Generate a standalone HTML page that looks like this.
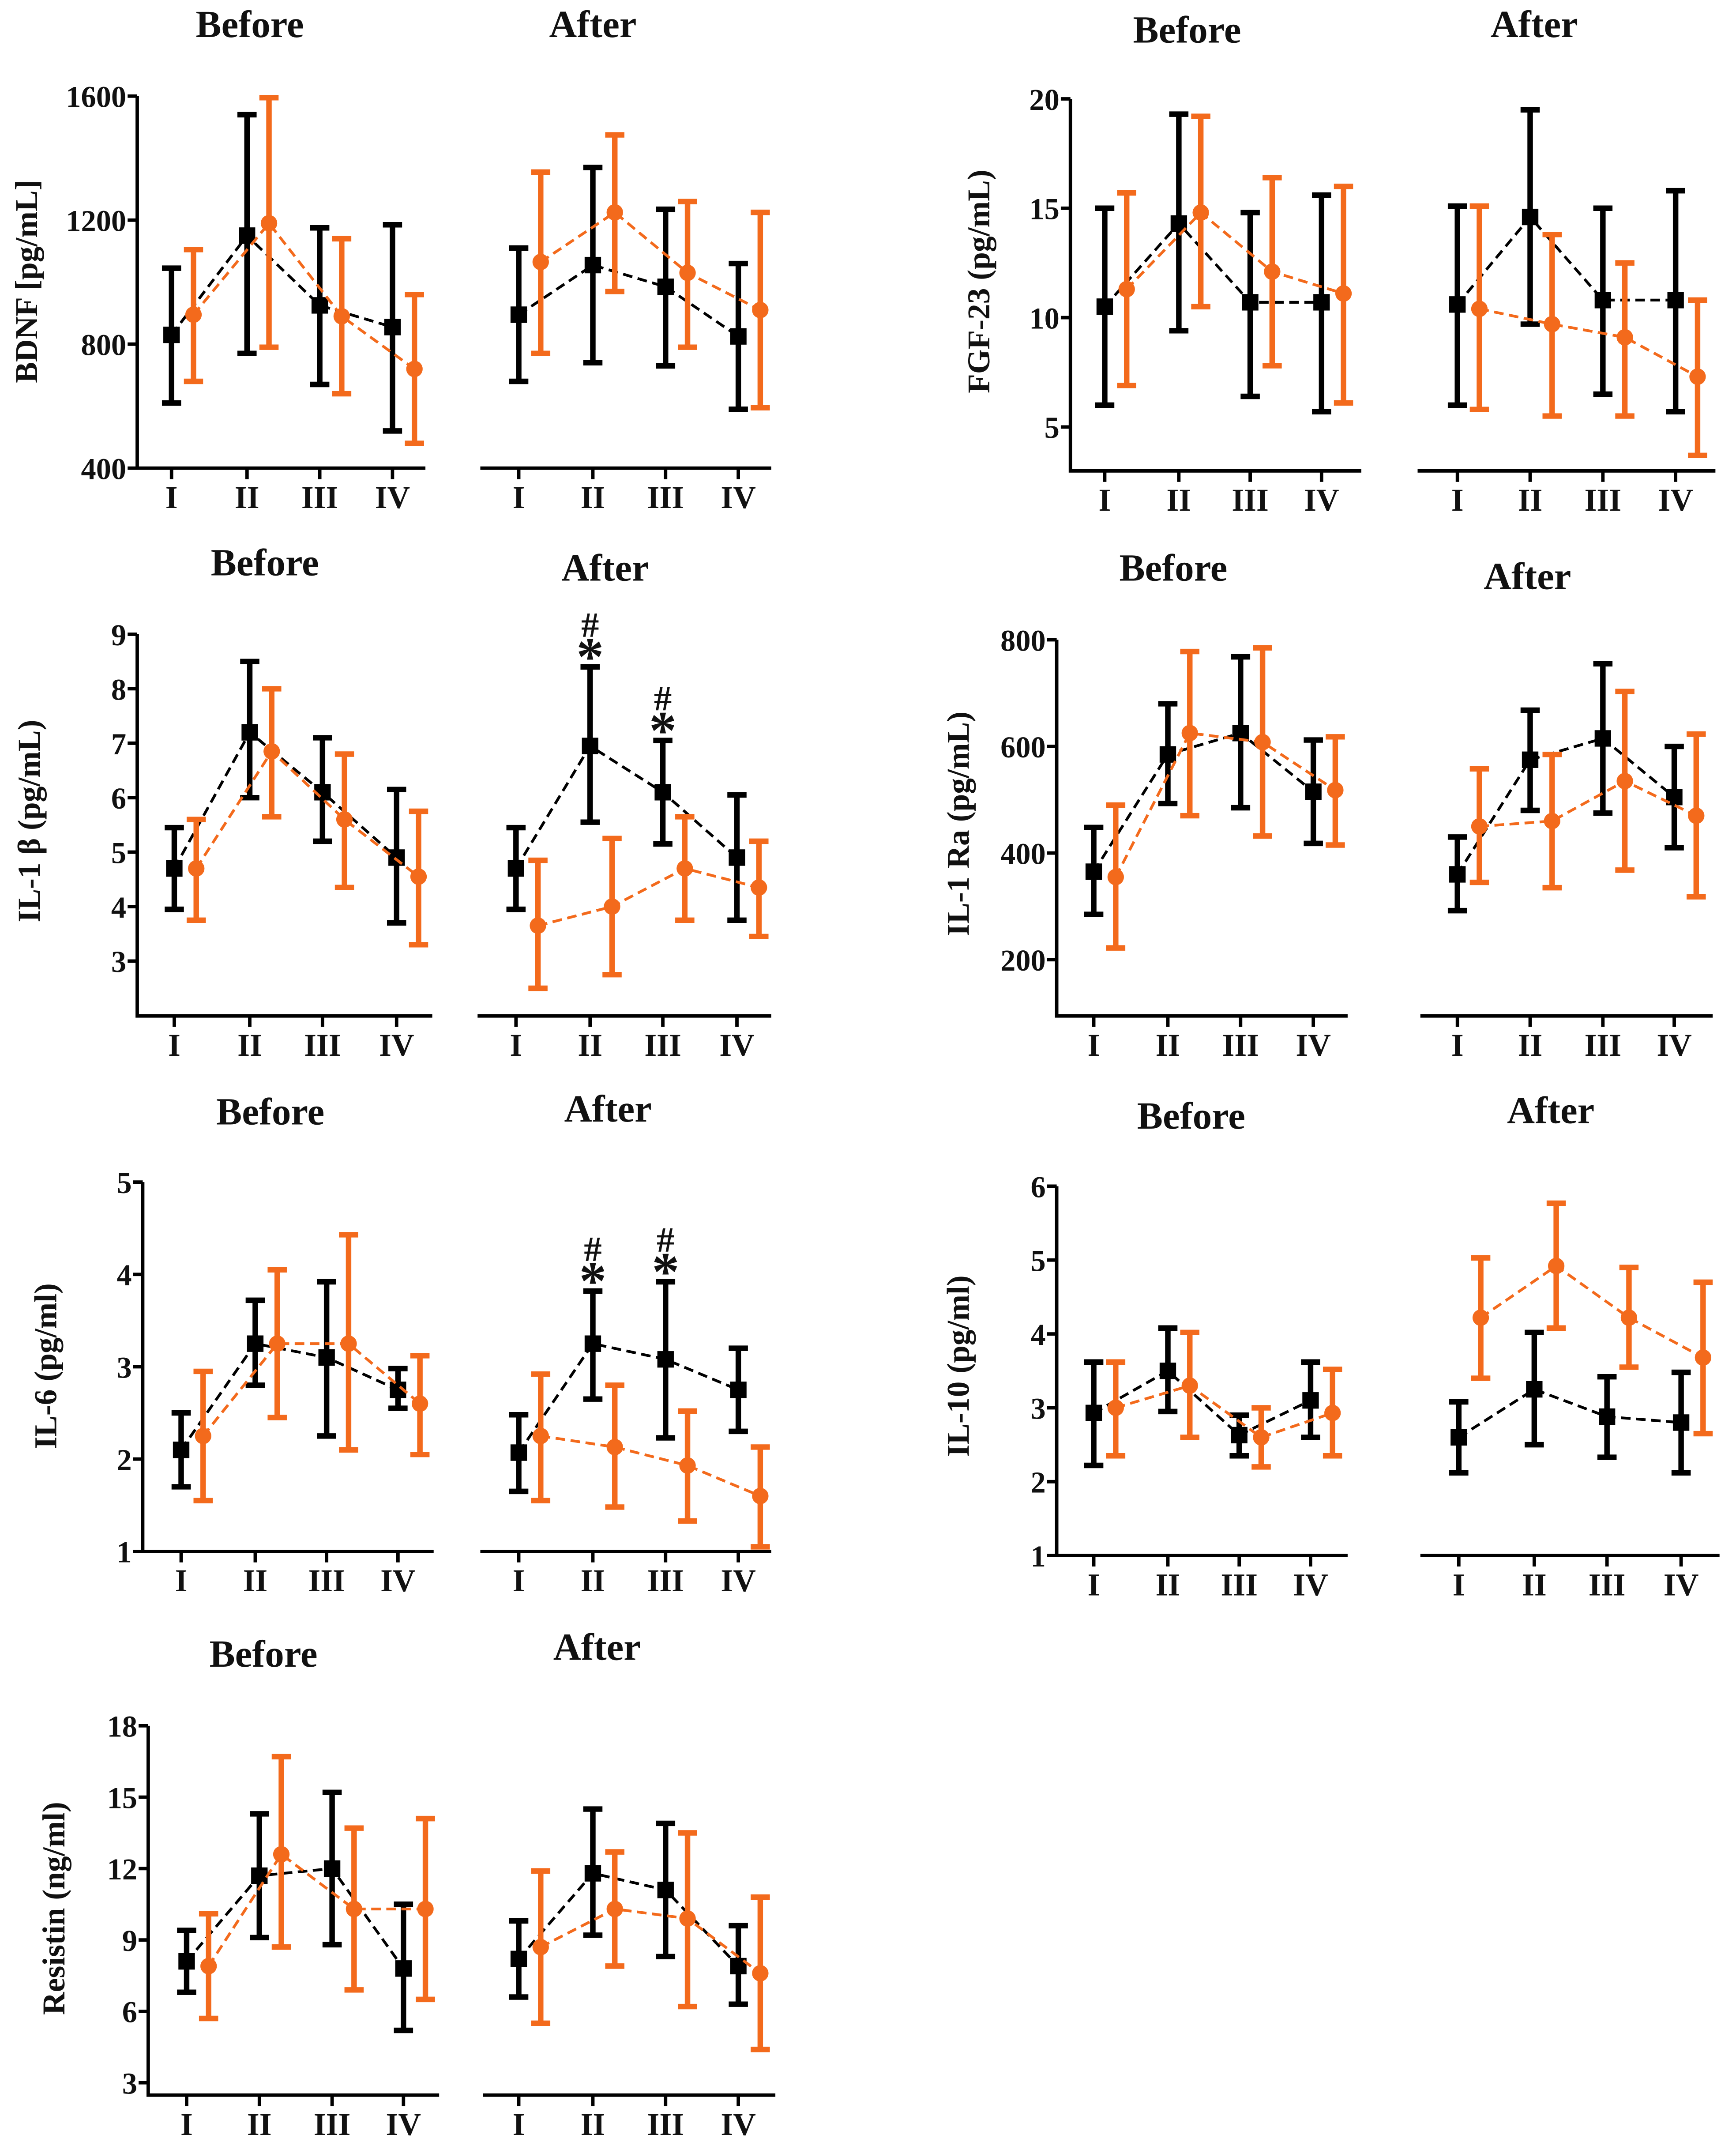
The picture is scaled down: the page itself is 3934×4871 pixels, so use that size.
<!DOCTYPE html>
<html><head><meta charset="utf-8"><style>
html,body{margin:0;padding:0;background:#fff}
svg{display:block}
text{font-family:"Liberation Serif",serif;font-weight:bold;fill:#111}
</style></head><body>
<svg id="fig" xmlns="http://www.w3.org/2000/svg" width="3934" height="4871" viewBox="0 0 1265 1566" preserveAspectRatio="none"></svg>
<script>
const ticksRoman = ["I","II","III","IV"];
// BDNF
const bdnfTicks = [400,800,1200,1600];
const bdnfBeforeBlack = [[830,610,1045],[1150,770,1540],[925,670,1175],[855,520,1185]];
const bdnfBeforeOrange = [[895,680,1105],[1190,790,1595],[890,640,1140],[720,480,960]];
const bdnfAfterBlack = [[895,680,1110],[1055,740,1370],[985,730,1235],[825,590,1060]];
const bdnfAfterOrange = [[1065,770,1355],[1225,970,1475],[1030,790,1260],[910,595,1225]];
// FGF-23
const fgfTicks = [5,10,15,20];
const fgfBeforeBlack = [[10.5,6,15],[14.3,9.4,19.3],[10.7,6.4,14.8],[10.7,5.7,15.6]];
const fgfBeforeOrange = [[11.3,6.9,15.7],[14.8,10.5,19.2],[12.1,7.8,16.4],[11.1,6.1,16]];
const fgfAfterBlack = [[10.6,6,15.1],[14.6,9.7,19.5],[10.8,6.5,15],[10.8,5.7,15.8]];
const fgfAfterOrange = [[10.4,5.8,15.1],[9.7,5.5,13.8],[9.1,5.5,12.5],[7.3,3.7,10.8]];
// IL-1 beta
const il1bTicks = [3,4,5,6,7,8,9];
const il1bBeforeBlack = [[4.7,3.95,5.45],[7.2,6,8.5],[6.1,5.2,7.1],[4.9,3.7,6.15]];
const il1bBeforeOrange = [[4.7,3.75,5.6],[6.85,5.65,8],[5.6,4.35,6.8],[4.55,3.3,5.75]];
const il1bAfterBlack = [[4.7,3.95,5.45],[6.95,5.55,8.4],[6.1,5.15,7.05],[4.9,3.75,6.05]];
const il1bAfterOrange = [[3.65,2.5,4.85],[4.0,2.75,5.25],[4.7,3.75,5.65],[4.35,3.45,5.2]];
// IL-1Ra
const il1raTicks = [200,400,600,800];
const il1raBeforeBlack = [[365,285,448],[585,493,680],[625,485,768],[515,418,612]];
const il1raBeforeOrange = [[355,222,490],[625,470,778],[608,432,785],[518,415,618]];
const il1raAfterBlack = [[360,292,430],[575,480,668],[615,475,755],[505,410,600]];
const il1raAfterOrange = [[450,345,558],[460,335,585],[535,368,703],[470,318,623]];
// IL-6
const il6Ticks = [1,2,3,4,5];
const il6BeforeBlack = [[2.1,1.7,2.5],[3.25,2.8,3.72],[3.1,2.25,3.92],[2.75,2.55,2.98]];
const il6BeforeOrange = [[2.25,1.55,2.95],[3.25,2.45,4.05],[3.25,2.1,4.43],[2.6,2.05,3.12]];
const il6AfterBlack = [[2.07,1.65,2.48],[3.25,2.65,3.82],[3.08,2.23,3.92],[2.75,2.3,3.2]];
const il6AfterOrange = [[2.25,1.55,2.92],[2.13,1.48,2.8],[1.93,1.33,2.52],[1.6,1.05,2.13]];
// IL-10
const il10Ticks = [1,2,3,4,5,6];
const il10BeforeBlack = [[2.93,2.22,3.62],[3.5,2.95,4.08],[2.63,2.35,2.9],[3.1,2.6,3.62]];
const il10BeforeOrange = [[3.0,2.35,3.62],[3.3,2.6,4.02],[2.6,2.2,3.0],[2.93,2.35,3.52]];
const il10AfterBlack = [[2.6,2.12,3.08],[3.25,2.5,4.02],[2.88,2.33,3.42],[2.8,2.12,3.48]];
const il10AfterOrange = [[4.22,3.4,5.03],[4.92,4.08,5.77],[4.22,3.55,4.9],[3.68,2.65,4.7]];
// Resistin
const resTicks = [3,6,9,12,15,18];
const resBeforeBlack = [[8.1,6.8,9.4],[11.7,9.1,14.3],[12.0,8.8,15.2],[7.8,5.2,10.5]];
const resBeforeOrange = [[7.9,5.7,10.1],[12.6,8.7,16.7],[10.3,6.9,13.7],[10.3,6.5,14.1]];
const resAfterBlack = [[8.2,6.6,9.8],[11.8,9.2,14.5],[11.1,8.3,13.9],[7.9,6.3,9.6]];
const resAfterOrange = [[8.7,5.5,11.9],[10.3,7.9,12.7],[9.9,6.2,13.5],[7.6,4.4,10.8]];

const NS="http://www.w3.org/2000/svg";
const svg=document.getElementById('fig');
const OR="#f36a1c";
function el(tag,attrs,parent,txt){const e=document.createElementNS(NS,tag);for(const k in attrs)e.setAttribute(k,attrs[k]);if(txt!==undefined)e.textContent=txt;(parent||svg).appendChild(e);return e;}

const panels=[
 {key:'bdnf',label:'BDNF [pg/mL]',labX:18,labY:205,ticks:bdnfTicks,v0:400,v1:1600,y0:341,y1:70,axTop:70,axBot:341,
  bx0:100,bx1:310,bxt:[125,180,233,286],ax0:350,ax1:562,axt:[378,432,485,538],
  tB:[182,18],tA:[432,18],data:[bdnfBeforeBlack,bdnfBeforeOrange,bdnfAfterBlack,bdnfAfterOrange]},
 {key:'fgf23',label:'FGF-23 (pg/mL)',labX:712,labY:205,ticks:fgfTicks,v0:5,v1:20,y0:311,y1:72,axTop:72,axBot:343,
  bx0:780,bx1:992,bxt:[805,859,911,963],ax0:1033,ax1:1250,axt:[1062,1115,1168,1221],
  tB:[865,22],tA:[1118,18],data:[fgfBeforeBlack,fgfBeforeOrange,fgfAfterBlack,fgfAfterOrange]},
 {key:'il1b',label:'IL-1 β (pg/mL)',labX:20,labY:598,ticks:il1bTicks,v0:3,v1:9,y0:700,y1:462,axTop:462,axBot:740,
  bx0:100,bx1:315,bxt:[127,182,235,289],ax0:348,ax1:562,axt:[376,430,483,537],
  tB:[193,410],tA:[441,414],data:[il1bBeforeBlack,il1bBeforeOrange,il1bAfterBlack,il1bAfterOrange],sig:[1,2]},
 {key:'il1ra',label:'IL-1 Ra (pg/mL)',labX:697,labY:600,ticks:il1raTicks,v0:200,v1:800,y0:699,y1:466,axTop:466,axBot:740,
  bx0:770,bx1:982,bxt:[797,851,904,957],ax0:1035,ax1:1248,axt:[1062,1115,1168,1220],
  tB:[855,414],tA:[1113,420],data:[il1raBeforeBlack,il1raBeforeOrange,il1raAfterBlack,il1raAfterOrange]},
 {key:'il6',label:'IL-6 (pg/ml)',labX:32,labY:995,ticks:il6Ticks,v0:1,v1:5,y0:1130,y1:861,axTop:861,axBot:1130,
  bx0:104,bx1:316,bxt:[132,186,238,290],ax0:350,ax1:562,axt:[378,432,485,538],
  tB:[197,810],tA:[443,808],data:[il6BeforeBlack,il6BeforeOrange,il6AfterBlack,il6AfterOrange],sig:[1,2]},
 {key:'il10',label:'IL-10 (pg/ml)',labX:697,labY:995,ticks:il10Ticks,v0:1,v1:6,y0:1133,y1:864,axTop:864,axBot:1133,
  bx0:770,bx1:982,bxt:[797,851,903,955],ax0:1035,ax1:1253,axt:[1063,1118,1171,1225],
  tB:[868,813],tA:[1130,809],data:[il10BeforeBlack,il10BeforeOrange,il10AfterBlack,il10AfterOrange]},
 {key:'resistin',label:'Resistin (ng/ml)',labX:38,labY:1390,ticks:resTicks,v0:3,v1:18,y0:1517,y1:1257,axTop:1257,axBot:1526,
  bx0:108,bx1:320,bxt:[136,189,242,294],ax0:352,ax1:565,axt:[378,432,485,538],
  tB:[192,1205],tA:[435,1200],data:[resBeforeBlack,resBeforeOrange,resAfterBlack,resAfterOrange]}
];

function series(g,d,xs,yf,isBlack,off,name){
  const col=isBlack?'#000':OR;
  const sg=el('g',{},g);
  
  
  const pts=d.map((v,i)=>[xs[i]+off,yf(v[0])]);
  const pl=el('polyline',{points:pts.map(p=>p.join(',')).join(' '),fill:'none',stroke:col,'stroke-width':2,'stroke-dasharray':'7,4'},sg);
  
  
  d.forEach((v,i)=>{
    const x=xs[i]+off, yl=yf(v[1]), yh=yf(v[2]);
    const eb=el('path',{d:`M${x},${yl}V${yh}M${x-7},${yl}H${x+7}M${x-7},${yh}H${x+7}`,stroke:col,'stroke-width':4,fill:'none'},sg);
    
    
    let m;
    if(isBlack) m=el('rect',{x:x-6,y:yf(v[0])-6,width:12,height:12,fill:col},sg);
    else m=el('circle',{cx:x,cy:yf(v[0]),r:6,fill:col},sg);
    
    
  });
}

panels.forEach(p=>{
  const g=el('g',{},svg);
  
  
  const yf=v=>p.y0+(v-p.v0)*(p.y1-p.y0)/(p.v1-p.v0);
  const t1=el('text',{x:p.tB[0],y:p.tB[1]+9,'text-anchor':'middle','font-size':28},g,'Before');
  
  
  const t2=el('text',{x:p.tA[0],y:p.tA[1]+9,'text-anchor':'middle','font-size':28},g,'After');
  
  
  const yl=el('text',{x:0,y:0,transform:`translate(${p.labX+9},${p.labY}) rotate(-90)`,'text-anchor':'middle','font-size':23},g,p.label);
  
  
  const ax=el('path',{d:`M${p.bx0},${p.axTop}V${p.axBot}H${p.bx1}M${p.ax0},${p.axBot}H${p.ax1}`,stroke:'#000','stroke-width':2.5,fill:'none'},g);
  
  
  p.ticks.forEach(t=>{
    const y=yf(t);
    const tk=el('line',{x1:p.bx0-7,x2:p.bx0,y1:y,y2:y,stroke:'#000','stroke-width':2.5},g);
    
    
    const tl=el('text',{x:p.bx0-8,y:y+8,'text-anchor':'end','font-size':22},g,String(t));
    
    
  });
  [p.bxt,p.axt].forEach(xs=>xs.forEach((x,i)=>{
    const tk=el('line',{x1:x,x2:x,y1:p.axBot,y2:p.axBot+8,stroke:'#000','stroke-width':2.5},g);
    
    
    const tl=el('text',{x:x,y:p.axBot+29,'text-anchor':'middle','font-size':23},g,ticksRoman[i]);
    
    
  }));
  series(g,p.data[0],p.bxt,yf,true,0,'before-black-series');
  series(g,p.data[1],p.bxt,yf,false,16,'before-orange-series');
  series(g,p.data[2],p.axt,yf,true,0,'after-black-series');
  series(g,p.data[3],p.axt,yf,false,16,'after-orange-series');
  if(p.sig){
    p.sig.forEach(i=>{
      const x=p.axt[i], y=yf(p.data[2][i][2]);
      const s=el('text',{x:x,y:y+6,'text-anchor':'middle','font-size':40,'font-weight':'normal'},g,'*');
      
      
      const h=el('text',{x:x,y:y-22,'text-anchor':'middle','font-size':26,'font-weight':'normal'},g,'#');
      
      
    });
  }
});
</script>
</body></html>
